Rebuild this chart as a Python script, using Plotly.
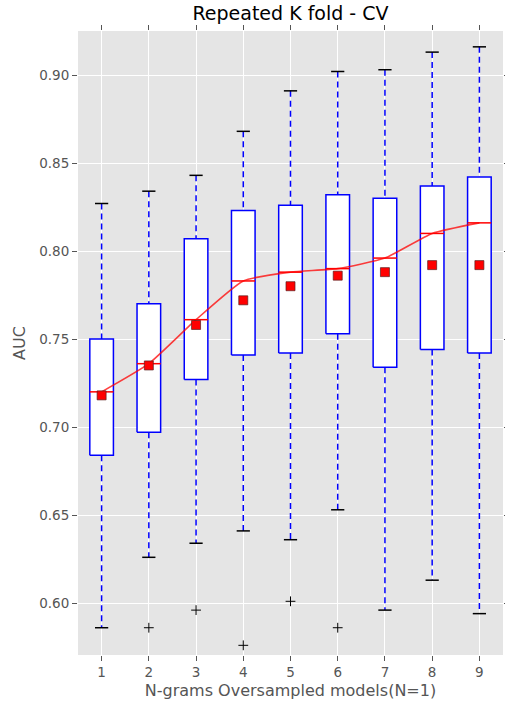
import plotly.graph_objects as go

models = [1, 2, 3, 4, 5, 6, 7, 8, 9]
upper_whisker = [0.827, 0.834, 0.843, 0.868, 0.891, 0.902, 0.903, 0.913, 0.916]
q3 = [0.750, 0.770, 0.807, 0.823, 0.826, 0.832, 0.830, 0.837, 0.842]
median = [0.720, 0.736, 0.761, 0.783, 0.788, 0.790, 0.796, 0.810, 0.816]
mean = [0.718, 0.735, 0.758, 0.772, 0.780, 0.786, 0.788, 0.792, 0.792]
q1 = [0.684, 0.697, 0.727, 0.741, 0.742, 0.753, 0.734, 0.744, 0.742]
lower_whisker = [0.586, 0.626, 0.634, 0.641, 0.636, 0.653, 0.596, 0.613, 0.594]
outlier_x = [2, 3, 4, 5, 6]
outlier_y = [0.586, 0.596, 0.576, 0.601, 0.586]

BOX_HALF = 0.25
CAP_HALF = 0.14

fig = go.Figure()

# whiskers
wx, wy = [], []
for x, lo, a, b, hi in zip(models, lower_whisker, q1, q3, upper_whisker):
    wx += [x, x, None, x, x, None]
    wy += [hi, b, None, a, lo, None]
fig.add_trace(go.Scatter(x=wx, y=wy, mode="lines",
                         line=dict(color="blue", width=1.5, dash="6px,4px"),
                         hoverinfo="skip", showlegend=False))

# boxes
for x, a, b in zip(models, q1, q3):
    fig.add_trace(go.Scatter(
        x=[x - BOX_HALF, x + BOX_HALF, x + BOX_HALF, x - BOX_HALF, x - BOX_HALF],
        y=[a, a, b, b, a], mode="lines", fill="toself", fillcolor="white",
        line=dict(color="blue", width=1.5), hoverinfo="skip", showlegend=False))

# caps
cx, cy = [], []
for x, lo, hi in zip(models, lower_whisker, upper_whisker):
    cx += [x - CAP_HALF, x + CAP_HALF, None, x - CAP_HALF, x + CAP_HALF, None]
    cy += [hi, hi, None, lo, lo, None]
fig.add_trace(go.Scatter(x=cx, y=cy, mode="lines",
                         line=dict(color="black", width=1.5),
                         hoverinfo="skip", showlegend=False))

# medians
mx, my = [], []
for x, m in zip(models, median):
    mx += [x - BOX_HALF, x + BOX_HALF, None]
    my += [m, m, None]
fig.add_trace(go.Scatter(x=mx, y=my, mode="lines",
                         line=dict(color="red", width=1.5),
                         hoverinfo="skip", showlegend=False))

# median trend line
fig.add_trace(go.Scatter(x=models, y=median, mode="lines",
                         line=dict(color="rgba(255,0,0,0.75)", width=1.6, shape="spline", smoothing=0.5),
                         hoverinfo="skip", showlegend=False))

# means
fig.add_trace(go.Scatter(x=models, y=mean, mode="markers",
                         marker=dict(symbol="square", size=9, color="red",
                                     line=dict(color="rgba(90,30,30,0.7)", width=1)),
                         hoverinfo="skip", showlegend=False))

# outliers
fig.add_trace(go.Scatter(x=outlier_x, y=outlier_y, mode="markers",
                         marker=dict(symbol="cross-thin", size=7,
                                     line=dict(color="black", width=1)),
                         hoverinfo="skip", showlegend=False))

axis_font = dict(family="DejaVu Sans", size=13.5, color="#555555")
fig.update_layout(
    width=505, height=711,
    margin=dict(l=78, r=2, t=31, b=56),
    paper_bgcolor="white", plot_bgcolor="#E5E5E5",
    title=dict(text="Repeated K fold - CV", x=0.5, xref="paper", xanchor="center",
               y=1, yref="container", yanchor="top", pad=dict(t=7),
               font=dict(family="DejaVu Sans", size=19, color="black")),
    font=dict(family="DejaVu Sans"),
)
fig.update_xaxes(range=[0.5, 9.5], tickvals=models, ticktext=[str(m) for m in models],
                 showgrid=True, gridcolor="white", gridwidth=1, zeroline=False,
                 ticks="outside", ticklen=5, tickcolor="#555555", tickwidth=1, mirror="ticks",
                 tickfont=axis_font,
                 title=dict(text="N-grams Oversampled models(N=1)", standoff=5,
                            font=dict(family="DejaVu Sans", size=16, color="#555555")))
fig.update_yaxes(range=[0.5705, 0.925], tickvals=[0.60, 0.65, 0.70, 0.75, 0.80, 0.85, 0.90],
                 ticktext=["0.60", "0.65", "0.70", "0.75", "0.80", "0.85", "0.90"],
                 showgrid=True, gridcolor="white", gridwidth=1, zeroline=False,
                 ticks="outside", ticklen=5, tickcolor="#555555", tickwidth=1, mirror="ticks",
                 tickfont=axis_font,
                 title=dict(text="AUC", standoff=9,
                            font=dict(family="DejaVu Sans", size=16, color="#555555")))

fig.write_html("out.html")
